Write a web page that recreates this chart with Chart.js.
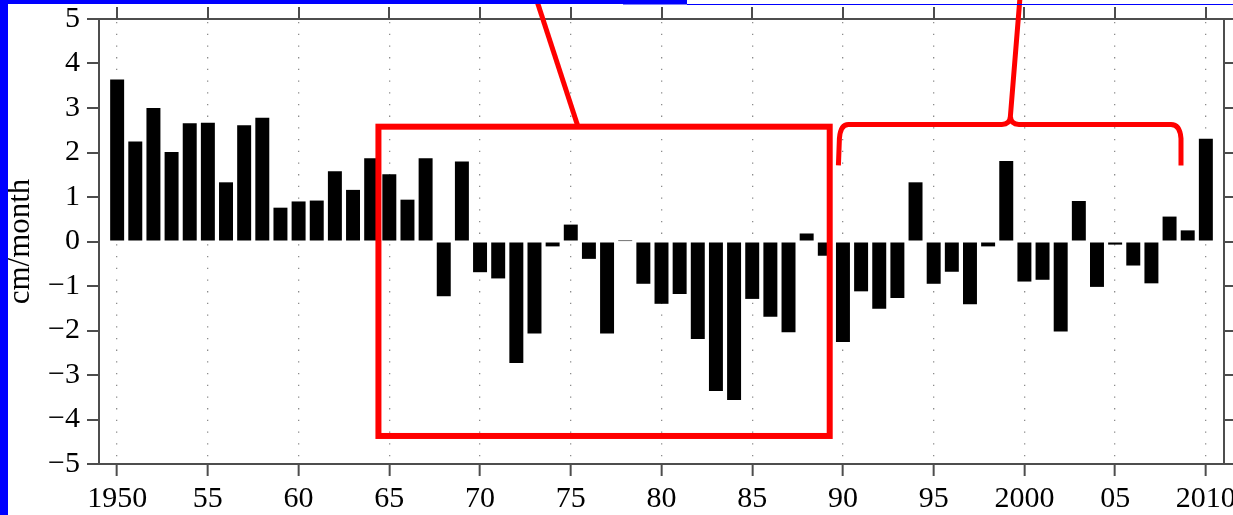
<!DOCTYPE html>
<html>
<head>
<meta charset="utf-8">
<script src="https://cdn.jsdelivr.net/npm/chart.js@4.4.1/dist/chart.umd.min.js"></script>
<style>
  html, body { margin: 0; padding: 0; background: #fff; }
  #wrap { position: relative; width: 1233px; height: 515px; }
</style>
</head>
<body>
<div id="wrap"><canvas id="chart"></canvas></div>
<script>
// yearly values (cm/month)
const years = [1950, 1951, 1952, 1953, 1954, 1955, 1956, 1957, 1958, 1959,
  1960, 1961, 1962, 1963, 1964, 1965, 1966, 1967, 1968, 1969,
  1970, 1971, 1972, 1973, 1974, 1975, 1976, 1977, 1978, 1979,
  1980, 1981, 1982, 1983, 1984, 1985, 1986, 1987, 1988, 1989,
  1990, 1991, 1992, 1993, 1994, 1995, 1996, 1997, 1998, 1999,
  2000, 2001, 2002, 2003, 2004, 2005, 2006, 2007, 2008, 2009, 2010];
const values = [3.64, 2.25, 3.00, 2.01, 2.66, 2.67, 1.33, 2.61, 2.78, 0.76,
  0.90, 0.92, 1.58, 1.16, 1.87, 1.51, 0.94, 1.87, -1.23, 1.80,
  -0.69, -0.83, -2.73, -2.07, -0.11, 0.38, -0.39, -2.07, 0.01, -0.95,
  -1.40, -1.18, -2.19, -3.36, -3.56, -1.29, -1.69, -2.04, 0.18, -0.32,
  -2.26, -1.12, -1.51, -1.27, 1.33, -0.95, -0.68, -1.41, -0.11, 1.81,
  -0.90, -0.86, -2.02, 0.91, -1.02, -0.07, -0.54, -0.94, 0.56, 0.25, 2.31];
const xTickYears = [1950, 1955, 1960, 1965, 1970, 1975, 1980, 1985, 1990, 1995, 2000, 2005, 2010];
const xTickLabels = ['1950', '55', '60', '65', '70', '75', '80', '85', '90', '95', '2000', '05', '2010'];
const yTicks = [-5, -4, -3, -2, -1, 0, 1, 2, 3, 4, 5];

// red annotation, in data units
const redBox = { x1: 1964.4, x2: 1989.27, y1: 2.58, y2: -4.37 };
const pointer = { x1: 1973.1, y1: 5.45, x2: 1975.4, y2: 2.58 };
const bracket = { x1: 1989.75, x2: 2008.63, yEnd: 1.71, yBar: 2.63, xCusp: 1999.2, xTop: 1999.75, yTop: 5.45 };

const axisColor = '#4d4d4d';
const serif = "'Liberation Serif', 'Times New Roman', serif";

const xTicksFromList = scale => { scale.ticks = xTickYears.map(v => ({ value: v })); };
const yTicksFromList = scale => { scale.ticks = yTicks.map(v => ({ value: v })); };
const minus = v => v < 0 ? '\u2212' + (-v) : String(v);
// fixed box sizes, no extra room for overhanging labels
const fixH = h => s => { s.height = h; s.paddingLeft = 0; s.paddingRight = 0; };
const fixW = w => s => { s.width = w; s.paddingTop = 0; s.paddingBottom = 0; };

const overlay = {
  id: 'overlay',
  afterDraw(chart) {
    const { ctx, scales: { x, y } } = chart;
    const px = v => x.getPixelForValue(v);
    const py = v => y.getPixelForValue(v);
    ctx.save();
    ctx.strokeStyle = '#ff0000';
    ctx.lineWidth = 6;
    ctx.strokeRect(px(redBox.x1), py(redBox.y1), px(redBox.x2) - px(redBox.x1), py(redBox.y2) - py(redBox.y1));

    ctx.lineWidth = 5;
    ctx.beginPath();
    ctx.moveTo(px(pointer.x1), py(pointer.y1));
    ctx.lineTo(px(pointer.x2), py(pointer.y2));
    ctx.stroke();

    const L = px(bracket.x1), R = px(bracket.x2), yb = py(bracket.yBar), ye = py(bracket.yEnd);
    const c = px(bracket.xCusp), t = px(bracket.xTop), yt = py(bracket.yTop);
    ctx.lineJoin = 'round';
    ctx.beginPath();
    ctx.moveTo(L, ye);
    ctx.lineTo(L + 1, yb + 14);
    ctx.quadraticCurveTo(L + 2, yb, L + 10, yb);
    ctx.lineTo(c - 8, yb);
    ctx.quadraticCurveTo(c, yb, c + 0.5, yb - 8);
    ctx.lineTo(t, yt);
    ctx.moveTo(c + 0.5, yb - 8);
    ctx.quadraticCurveTo(c + 1, yb, c + 9, yb);
    ctx.lineTo(R - 10, yb);
    ctx.quadraticCurveTo(R - 1, yb, R, yb + 14);
    ctx.lineTo(R, ye);
    ctx.stroke();

    // blue frame edges from the source screenshot
    ctx.fillStyle = '#0000ff';
    ctx.fillRect(0, 0, 8, chart.height);
    ctx.fillRect(0, 0, 623, 4);
    ctx.fillRect(623, 0, 64, 4.5);
    ctx.fillRect(687, 4, chart.width - 687, 1);
    ctx.restore();
  }
};

new Chart(document.getElementById('chart'), {
  type: 'bar',
  data: {
    datasets: [{
      data: years.map((yr, i) => ({ x: yr, y: values[i] })),
      backgroundColor: '#000000',
      borderWidth: 0,
      barPercentage: 0.77,
      categoryPercentage: 1
    }]
  },
  options: {
    responsive: true,
    maintainAspectRatio: false,
    animation: false,
    layout: { padding: 0 },
    plugins: { legend: { display: false }, tooltip: { enabled: false } },
    scales: {
      x: {
        type: 'linear', axis: 'x', position: 'bottom', min: 1949, max: 2011, offset: false,
        afterBuildTicks: xTicksFromList,
        afterFit: fixH(51),
        grid: { offset: false, color: '#8c8c8c', lineWidth: 1.3, tickLength: 12, tickColor: axisColor, tickWidth: 2, tickBorderDash: [] },
        border: { color: axisColor, width: 2, dash: [1.3, 10.4], dashOffset: -3 },
        ticks: {
          color: '#000', font: { family: serif, size: 30 }, padding: 5, maxRotation: 0, autoSkip: false,
          callback: (v, i) => xTickLabels[i]
        }
      },
      xTop: {
        type: 'linear', axis: 'x', position: 'top', min: 1949, max: 2011, offset: false,
        afterBuildTicks: xTicksFromList,
        afterFit: fixH(19),
        grid: { offset: false, drawOnChartArea: false, tickLength: 12, color: axisColor, lineWidth: 2 },
        border: { color: axisColor, width: 2 },
        ticks: { display: false }
      },
      y: {
        type: 'linear', axis: 'y', position: 'left', min: -5, max: 5,
        afterBuildTicks: yTicksFromList,
        afterFit: fixW(99),
        grid: { drawOnChartArea: false, tickLength: 12, color: axisColor, lineWidth: 2 },
        border: { color: axisColor, width: 2 },
        ticks: { color: '#000', font: { family: serif, size: 30 }, padding: 7, callback: v => minus(v) },
        title: { display: true, text: 'cm/month', color: '#000', font: { family: serif, size: 31 }, padding: { top: 2, bottom: 0 } }
      },
      yRight: {
        type: 'linear', axis: 'y', position: 'right', min: -5, max: 5,
        afterBuildTicks: yTicksFromList,
        afterFit: fixW(9),
        grid: { drawOnChartArea: false, tickLength: 9, color: axisColor, lineWidth: 2 },
        border: { color: axisColor, width: 2 },
        ticks: { display: false }
      }
    }
  },
  plugins: [overlay]
});
</script>
</body>
</html>
